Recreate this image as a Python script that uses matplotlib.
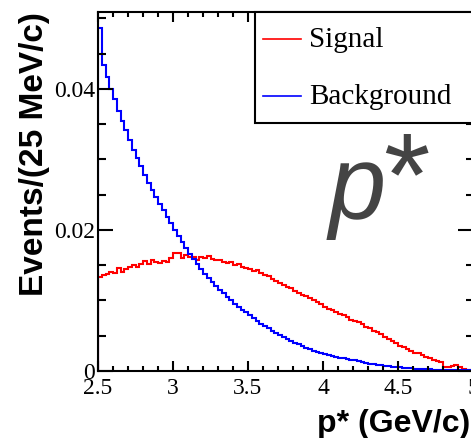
import numpy as np
import matplotlib
matplotlib.use('Agg')
import matplotlib.pyplot as plt
from matplotlib.ticker import MultipleLocator
from matplotlib.patches import Rectangle
from matplotlib.lines import Line2D

# 100 bins of 25 MeV from 2.5 to 5 GeV/c
bin_edges = np.linspace(2.5, 5.0, 101)

signal = [
    0.0133, 0.0136, 0.0138, 0.0141, 0.0139, 0.0146, 0.0140, 0.0144, 0.0147, 0.0150,
    0.0148, 0.0152, 0.0156, 0.0151, 0.0158, 0.0154, 0.0153, 0.0156, 0.0155, 0.0160,
    0.0167, 0.0168, 0.0160, 0.0165, 0.0162, 0.0161, 0.0158, 0.0162, 0.0160, 0.0163,
    0.0159, 0.0157, 0.0158, 0.0155, 0.0153, 0.0154, 0.0150, 0.0151, 0.0148, 0.0146,
    0.0145, 0.0142, 0.0143, 0.0139, 0.0136, 0.0134, 0.0130, 0.0128, 0.0125, 0.0122,
    0.0119, 0.0117, 0.0113, 0.0111, 0.0108, 0.0106, 0.0103, 0.0101, 0.0098, 0.0095,
    0.0091, 0.0088, 0.0086, 0.0083, 0.0081, 0.0079, 0.0076, 0.0073, 0.0071, 0.0069,
    0.0066, 0.0063, 0.0061, 0.0057, 0.0055, 0.0052, 0.0048, 0.0046, 0.0042, 0.0039,
    0.0036, 0.0034, 0.0031, 0.0029, 0.0026, 0.0025, 0.0023, 0.0020, 0.0018, 0.0016,
    0.0014, 0.0013, 0.0006, 0.0005, 0.0007, 0.0009, 0.0005, 0.0003, 0.0002, 0.0001,
]

background = [
    0.0487, 0.0434, 0.0417, 0.0400, 0.0385, 0.0369, 0.0355, 0.0341, 0.0327, 0.0314,
    0.0302, 0.0290, 0.0278, 0.0267, 0.0257, 0.0247, 0.0237, 0.0228, 0.0219, 0.0210,
    0.0200, 0.0191, 0.0183, 0.0174, 0.0166, 0.0159, 0.0152, 0.0145, 0.0138, 0.0132,
    0.0126, 0.0120, 0.0115, 0.0110, 0.0105, 0.0100, 0.0095, 0.0091, 0.0087, 0.0083,
    0.0079, 0.00748, 0.00709, 0.00672, 0.00636, 0.00603, 0.00571, 0.00541, 0.00512, 0.00485,
    0.00460, 0.00430, 0.00403, 0.00377, 0.00352, 0.00330, 0.00308, 0.00289, 0.00270, 0.00255,
    0.00240, 0.00226, 0.00213, 0.00201, 0.00190, 0.00179, 0.00169, 0.00159, 0.00150, 0.00137,
    0.00125, 0.00114, 0.00104, 0.00095, 0.00087, 0.00079, 0.00072, 0.00066, 0.00060, 0.00055,
    0.00050, 0.00045, 0.00041, 0.00037, 0.00034, 0.00030, 0.00027, 0.00025, 0.00022, 0.00020,
    0.00018, 0.00017, 0.00015, 0.00014, 0.00013, 0.00012, 0.00011, 0.00010, 0.00009, 0.00008,
]

labels = ['Signal', 'Background']
colors = ['#ff0000', '#0000ff']

W, H = 471, 438
fig = plt.figure(figsize=(W / 100, H / 100), dpi=100)
# axes box in pixels: left 98, right 473, top 12, bottom 371
ax = fig.add_axes([98 / W, (H - 371) / H, (473 - 98) / W, (371 - 12) / H])

ax.stairs(signal, bin_edges, color=colors[0], lw=1.5)
ax.stairs(background, bin_edges, color=colors[1], lw=1.5)

ax.set_xlim(2.5, 5.0)
ax.set_ylim(0, 0.0509)

serif = 'Liberation Serif'
ax.xaxis.set_minor_locator(MultipleLocator(0.1))
ax.yaxis.set_minor_locator(MultipleLocator(0.005))
ax.set_xticks([2.5, 3, 3.5, 4, 4.5, 5])
ax.set_xticklabels(['2.5', '3', '3.5', '4', '4.5', '5'])
ax.set_yticks([0, 0.02, 0.04])
ax.set_yticklabels(['0', '0.02', '0.04'])

ax.tick_params(axis='both', which='both', direction='in', top=True, right=True, width=1.5)
ax.tick_params(axis='x', which='major', length=7.2, pad=5)
ax.tick_params(axis='x', which='minor', length=3.6)
ax.tick_params(axis='y', which='major', length=10.8, pad=2)
ax.tick_params(axis='y', which='minor', length=5.4)
for lab in ax.get_xticklabels() + ax.get_yticklabels():
    lab.set_fontfamily(serif)
    lab.set_fontsize(17)
for sp in ax.spines.values():
    sp.set_linewidth(1.5)

# axis titles, ROOT style (right/top aligned)
fig.text(470 / W, (H - 432) / H, 'p* (GeV/c)', ha='right', va='baseline',
         fontfamily='Liberation Sans', fontweight='bold', fontsize=23)
fig.text(19 / W, (H - 12) / H, 'Events/(25 MeV/c)', ha='right', va='top', rotation=90,
         rotation_mode='anchor', fontfamily='Liberation Sans', fontweight='bold', fontsize=24)

# legend box (open on the right, like a TLegend running off the pad)
def px(x, y):
    return x / W, (H - y) / H

x0, y0 = px(255, 123)
x1, y1 = px(485, 12)
fig.patches.append(Rectangle((x0, y0), x1 - x0, y1 - y0, transform=fig.transFigure,
                             facecolor='white', edgecolor='black', lw=1.5, zorder=5))
for i, (lab, col) in enumerate(zip(labels, colors)):
    yl = 39 + 57 * i
    fig.lines.append(Line2D([263 / W, 301 / W], [px(0, yl)[1]] * 2,
                            transform=fig.transFigure, color=col, lw=1.2, zorder=6))
    fig.text(309 / W, px(0, yl + 8)[1], lab, fontfamily=serif, fontsize=21,
             ha='left', va='baseline', zorder=6)

# big p* label
fig.text(329 / W, (H - 218) / H, 'p', style='italic', fontfamily='Liberation Sans',
         fontsize=74, color='#444444', ha='left', va='baseline')
fig.text(383 / W, (H - 215) / H, '*', fontfamily='Liberation Sans',
         fontsize=86, color='#444444', ha='left', va='baseline')

fig.savefig('out.png', dpi=100)
